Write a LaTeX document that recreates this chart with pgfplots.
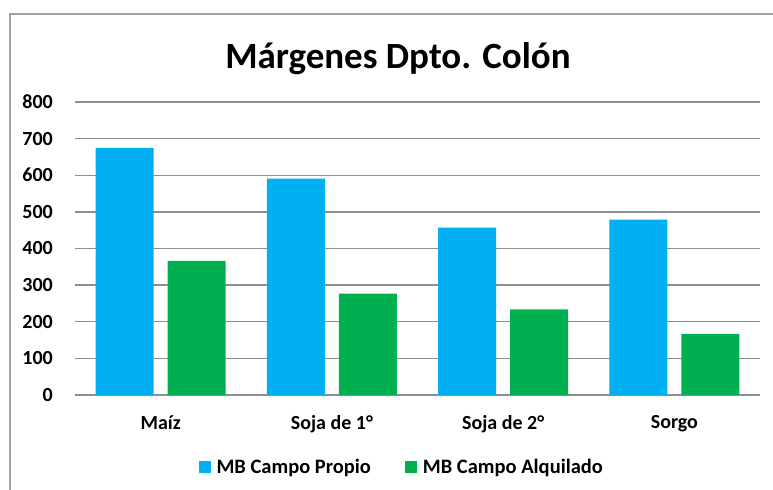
\documentclass[border=0pt]{standalone}
\usepackage{fontspec}
\setmainfont{Carlito}
\usepackage{pgfplots}
\pgfplotsset{compat=1.18}
\definecolor{cblue}{HTML}{00B0F0}
\definecolor{cgreen}{HTML}{00B050}
\definecolor{gridc}{HTML}{8E8E8E}
\definecolor{framec}{HTML}{A0A0A0}
\begin{document}
\begin{tikzpicture}[x=1bp,y=1bp]
\path[use as bounding box] (0,0) rectangle (773,490);
\draw[framec, line width=1.5bp] (10,0) -- (10,476) -- (773,476);
\node[anchor=base, font=\bfseries\fontsize{37bp}{44bp}\selectfont, inner sep=0pt] at (398,421) {Márgenes Dpto. Colón};
\begin{axis}[
  at={(75bp,95bp)}, anchor=south west,
  scale only axis, width=685bp, height=293bp,
  xmin=-0.5, xmax=3.5, ymin=0, ymax=800,
  ytick={0,100,...,800},
  xtick={0,1,2,3},
  xticklabels={Maíz, Soja de 1°, Soja de 2°, Sorgo},
  ymajorgrids,
  major grid style={gridc, line width=1.3bp},
  axis line style={draw=none},
  major tick length=0pt,
  /pgf/number format/assume math mode=true,
  tick label style={font=\bfseries\fontsize{20bp}{24bp}\selectfont},
  yticklabel style={inner sep=0pt, anchor=east, xshift=-22bp},
  xticklabel style={inner sep=0pt, anchor=north, yshift=-20bp},
  ybar, bar width=58bp,
  legend columns=2,
  legend style={at={(0.477,-0.246)}, anchor=center, draw=none, fill=none,
    font=\bfseries\fontsize{20.5bp}{24bp}\selectfont,
    /tikz/every even column/.append style={column sep=32bp},
    /tikz/every odd column/.append style={column sep=4bp}},
  legend image code/.code={\fill[#1] (0bp,-6bp) rectangle (12bp,6bp);},
]
\addplot[fill=cblue, draw=none, bar shift=-36bp] coordinates {(0,675) (1,591) (2,457) (3,479)};
\addlegendentry{MB Campo Propio}
\addplot[fill=cgreen, draw=none, bar shift=36bp] coordinates {(0,366) (1,277) (2,234) (3,167)};
\addlegendentry{MB Campo Alquilado}
\end{axis}
\end{tikzpicture}
\end{document}
